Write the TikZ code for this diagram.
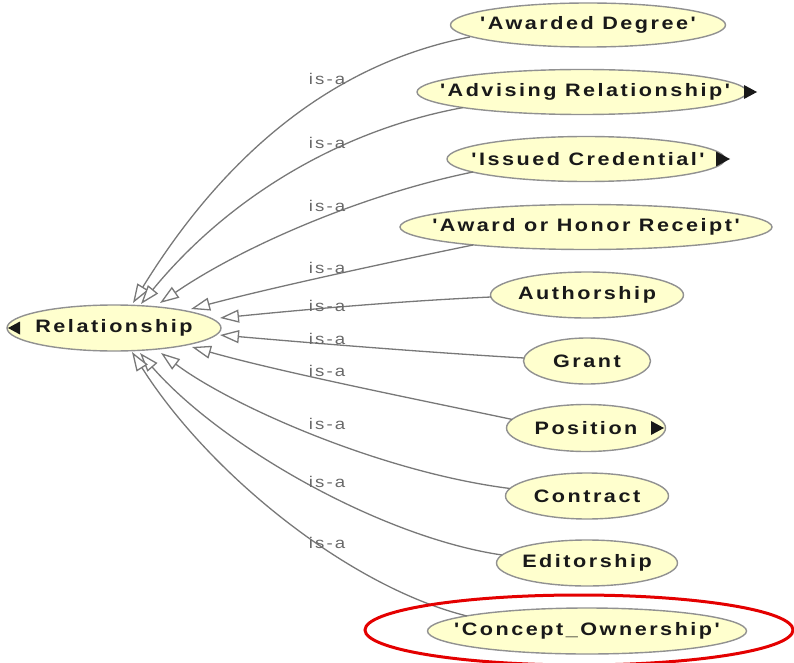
\documentclass[tikz,border=0pt]{standalone}
\usepackage{fontspec}
\usetikzlibrary{arrows.meta,shapes.geometric,calc}
\newfontfamily\nodefont[FakeStretch=1.2,LetterSpace=14,Ligatures=TeXOff]{Liberation Sans}
\newcommand{\zbox}[1]{\makebox[0pt][c]{#1}}
\definecolor{nodefill}{RGB}{255,255,206}
\definecolor{nodeline}{RGB}{145,145,145}
\definecolor{edgeline}{RGB}{120,120,120}
\definecolor{labelgray}{RGB}{105,105,105}
\definecolor{hlred}{RGB}{228,0,0}
\begin{document}
\begin{tikzpicture}[x=1pt,y=-1pt,
  cls/.style={ellipse, draw=nodeline, fill=nodefill, line width=1.4pt, inner sep=0pt, outer sep=0pt,
    minimum height=45pt, font=\nodefont\bfseries\fontsize{18}{21}\selectfont, text=black!90},
  isa/.style={draw=edgeline, line width=1.3pt, -{Triangle[length=19pt,width=13pt,fill=white]}},
  lbl/.style={font=\nodefont\fontsize{15.5}{18}\selectfont, text=labelgray, inner sep=0pt},
  mk/.style={fill=black!90}]
\useasboundingbox (0,0) rectangle (794,663);

% nodes
\node[cls, minimum width=214pt, minimum height=46pt] (rel) at (114,328) {\zbox{Relationship}};
\node[cls, minimum width=275pt, minimum height=44pt] (ad) at (588,25) {\zbox{'Awarded Degree'}};
\node[cls, minimum width=330pt] (ar) at (582,92) {\zbox{\hspace{6pt}'Advising Relationship'}};
\node[cls, minimum width=278pt] (ic) at (586,159) {\zbox{\hspace{4pt}'Issued Credential'}};
\node[cls, minimum width=372pt] (ahr) at (586,227) {\zbox{'Award or Honor Receipt'}};
\node[cls, minimum width=193pt, minimum height=46pt] (auth) at (587,295) {\zbox{Authorship}};
\node[cls, minimum width=127pt, minimum height=46pt] (grant) at (587,361) {\zbox{Grant}};
\node[cls, minimum width=159pt, minimum height=47pt] (pos) at (586,428) {\zbox{Position}};
\node[cls, minimum width=163pt, minimum height=46pt] (contract) at (587,496) {\zbox{Contract}};
\node[cls, minimum width=181pt, minimum height=46pt] (edit) at (587,563) {\zbox{Editorship}};
\node[cls, minimum width=319pt, minimum height=46pt] (concept) at (587,631) {\zbox{'Concept\_Ownership'}};

% small expand markers
\fill[mk] ($(rel.center)+(-94,-6.5)$) -- ($(rel.center)+(-106,0)$) -- ($(rel.center)+(-94,6.5)$) -- cycle;
\fill[mk] ($(ar.center)+(162,-7)$) -- ($(ar.center)+(175,0)$) -- ($(ar.center)+(162,7)$) -- cycle;
\fill[mk] ($(ic.center)+(130,-7.5)$) -- ($(ic.center)+(144,0)$) -- ($(ic.center)+(130,7.5)$) -- cycle;
\fill[mk] ($(pos.center)+(65,-7)$) -- ($(pos.center)+(78,0)$) -- ($(pos.center)+(65,7)$) -- cycle;

% is-a connectors
\draw[isa] ($(ad.center)+(-118,12)$) .. controls (320,66) and (215,170) .. ($(rel.center)+(19,-25)$);
\draw[isa] ($(ar.center)+(-119,15.6)$) .. controls (340,130) and (228,198) .. ($(rel.center)+(27,-24)$);
\draw[isa] ($(ic.center)+(-113,13)$) .. controls (360,195) and (240,248) .. ($(rel.center)+(46,-25)$);
\draw[isa] ($(ahr.center)+(-113,18)$) .. controls (390,262) and (270,288) .. ($(rel.center)+(77,-19)$);
\draw[isa] ($(auth.center)+(-96,2)$) .. controls (400,301) and (300,310) .. ($(rel.center)+(106,-10)$);
\draw[isa] ($(grant.center)+(-63,-3)$) .. controls (420,352) and (300,342) .. ($(rel.center)+(106,7)$);
\draw[isa] ($(pos.center)+(-74,-8.6)$) .. controls (420,400) and (280,372) .. ($(rel.center)+(78,19)$);
\draw[isa] ($(contract.center)+(-77,-7.5)$) .. controls (380,472) and (230,405) .. ($(rel.center)+(47,25)$);
\draw[isa] ($(edit.center)+(-85,-8)$) .. controls (380,537) and (220,445) .. ($(rel.center)+(26,25)$);
\draw[isa] ($(concept.center)+(-120,-15)$) .. controls (350,587) and (210,475) .. ($(rel.center)+(18,24)$);

% labels
\node[lbl] (l1) at (327,79) {is-a};
\node[lbl] (l2) at (327,143) {is-a};
\node[lbl] (l3) at (327,206) {is-a};
\node[lbl] (l4) at (327,268) {is-a};
\node[lbl] (l5) at (327,306) {is-a};
\node[lbl] (l6) at (327,339) {is-a};
\node[lbl] (l7) at (327,371) {is-a};
\node[lbl] (l8) at (327,424) {is-a};
\node[lbl] (l9) at (327,482) {is-a};
\node[lbl] (l10) at (327,543) {is-a};

% highlight
\node[draw=hlred, line width=3pt, ellipse, inner sep=0pt, minimum width=428pt, minimum height=70pt] (hl) at (579,630) {};
\end{tikzpicture}
\end{document}
